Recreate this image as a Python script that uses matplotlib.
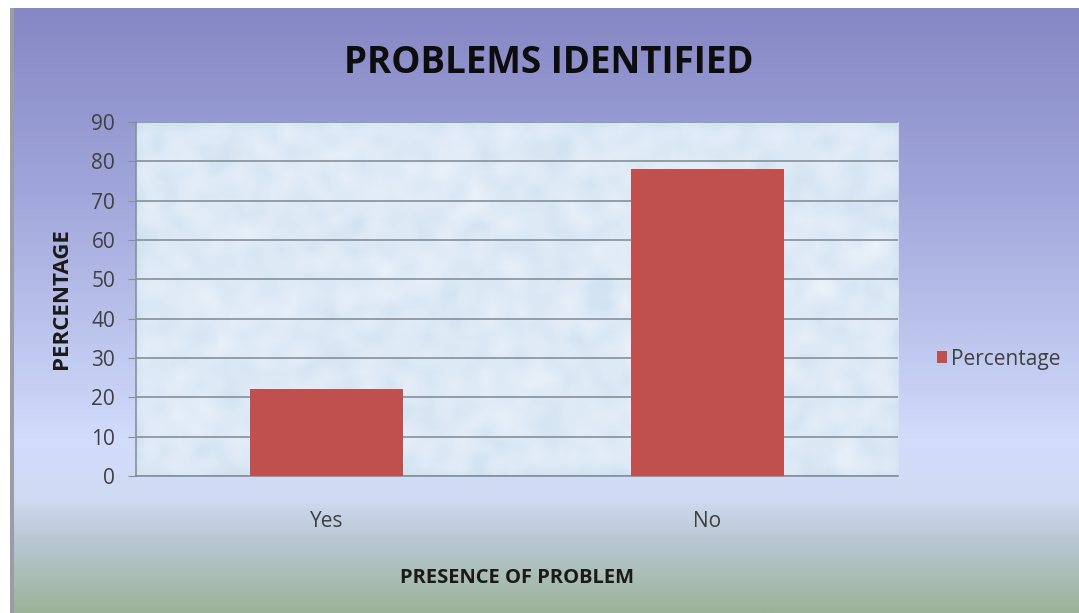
import matplotlib.pyplot as plt
import matplotlib.colors as mcolors
import numpy as np

# survey results
categories = ["Yes", "No"]
percentages = [22, 78]
series_name = "Percentage"
y_ticks = [0, 10, 20, 30, 40, 50, 60, 70, 80, 90]

W, H = 1079, 613
BAR_COLOR = "#c0504d"
TEXT_COLOR = "#404040"
FONT = ["Open Sans", "DejaVu Sans"]

fig = plt.figure(figsize=(W / 100, H / 100), dpi=100)
fig.patch.set_facecolor("white")

# slide background: purple-blue gradient fading to a pale lavender, then green at the foot
bg = fig.add_axes([12 / W, 0, 1 - 12 / W, (H - 8) / H])
bg.set_axis_off()
stops = [(0.0, "#8687c4"), (0.3, "#a0a6da"), (0.72, "#d2dcfb"),
         (0.81, "#cfdbf3"), (0.88, "#b9c8d4"), (1.0, "#9cb399")]
cmap = mcolors.LinearSegmentedColormap.from_list("slide", stops)
grad = np.linspace(0, 1, 400)[:, None]
bg.imshow(grad, aspect="auto", cmap=cmap, extent=[0, 1, 0, 1], origin="upper")
bg.set_xlim(0, 1)
bg.set_ylim(0, 1)

# thin grey frame on the left edge
fig.add_artist(plt.Rectangle((10 / W, 0), 4 / W, (H - 8) / H,
                             transform=fig.transFigure, color="#9a9ca8", lw=0))

ax = fig.add_axes([136 / W, (H - 476) / H, (898 - 136) / W, (476 - 122) / H])
ax.set_facecolor("#dde9f6")

# mottled paper texture inside the plot area
rng = np.random.default_rng(3)
noise = rng.random((60, 130))
k = np.ones(3) / 3
noise = np.apply_along_axis(lambda r: np.convolve(r, k, mode="same"), 1, noise)
noise = np.apply_along_axis(lambda c: np.convolve(c, k, mode="same"), 0, noise)
tex = mcolors.LinearSegmentedColormap.from_list("tex", ["#cddff0", "#eef4fb"])
ax.imshow(noise, aspect="auto", cmap=tex, extent=[-0.5, 1.5, 0, 90],
          interpolation="bicubic", zorder=0, alpha=0.9)

x = np.arange(len(categories))
ax.bar(x, percentages, width=0.4, color=BAR_COLOR, label=series_name, zorder=3)

ax.set_xlim(-0.5, 1.5)
ax.set_ylim(0, 90)
ax.set_yticks(y_ticks)
ax.set_xticks(x)
ax.set_xticklabels(categories)
ax.yaxis.grid(True, color="#86909a", lw=1.2, zorder=1)
ax.set_axisbelow(True)

for side in ["top", "right"]:
    ax.spines[side].set_visible(False)
for side in ["left", "bottom"]:
    ax.spines[side].set_color("#86909a")
    ax.spines[side].set_linewidth(1.2)

ax.tick_params(axis="y", length=6, color="#86909a", labelsize=15,
               labelcolor=TEXT_COLOR, pad=9)
ax.tick_params(axis="x", length=0, labelsize=15, labelcolor=TEXT_COLOR, pad=25)
for lbl in ax.get_xticklabels() + ax.get_yticklabels():
    lbl.set_family(FONT)

ax.set_xlabel("PRESENCE OF PROBLEM", fontsize=14.5, fontweight="bold",
              family=FONT, color="#1a1a1a", labelpad=26)
ax.set_ylabel("PERCENTAGE", fontsize=16, fontweight="bold",
              family=FONT, color="#1a1a1a", labelpad=14)

fig.text(549 / W, 1 - 63 / H, "PROBLEMS IDENTIFIED", ha="center", va="center",
         fontsize=26.5, fontweight="bold", family=FONT, color="#0d0d0d")

leg = ax.legend(loc="center left", bbox_to_anchor=(1.026, 0.33), frameon=False,
                handlelength=0.5, handleheight=0.5, handletextpad=0.2,
                prop={"family": FONT, "size": 15})
for t in leg.get_texts():
    t.set_color(TEXT_COLOR)

fig.savefig("out.png", dpi=100)
